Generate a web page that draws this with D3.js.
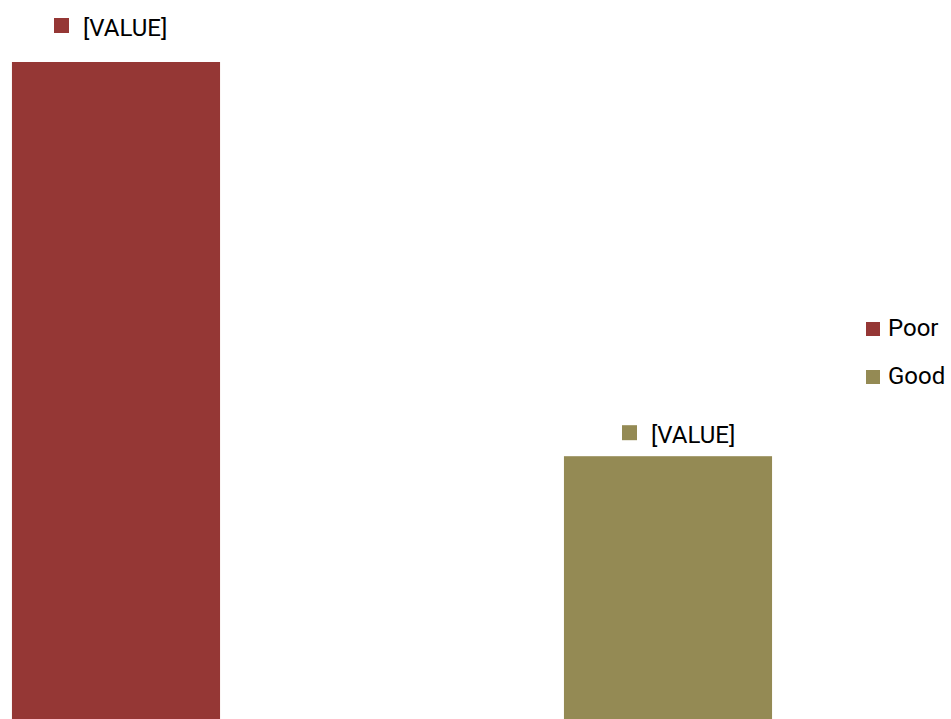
<!DOCTYPE html>
<html>
<head>
<meta charset="utf-8">
<script src="https://cdn.jsdelivr.net/npm/d3@7"></script>
<style>
  html, body { margin: 0; padding: 0; background: #fff; }
  svg { display: block; font-family: Roboto, "Liberation Sans", Arial, sans-serif; }
</style>
</head>
<body>
<svg id="chart"></svg>
<script>
// data
const categories = ["Poor", "Good"];
const values = [5, 2];
const labels = ["[VALUE]", "[VALUE]"];
const colors = ["#953735", "#948a54"];

// label placement relative to bar centre / bar top (the original positions them unevenly)
const labelDx = [-62, -46];
const labelDy = [-26, -13];

const width = 951, height = 719;

const svg = d3.select("#chart")
    .attr("width", width)
    .attr("height", height);

// x: category bands, gap width ~165% like the original
const x = d3.scaleBand()
    .domain(categories)
    .range([-160, 944])
    .paddingInner(0.623)
    .paddingOuter(0.3115);

// y: baseline sits at the bottom edge of the picture
const y = d3.scaleLinear()
    .domain([0, 5])
    .range([719, 62]);

const color = d3.scaleOrdinal().domain(categories).range(colors);

const rows = categories.map((c, i) => ({ cat: c, value: values[i], label: labels[i], i: i }));

// bars
svg.append("g").selectAll("rect")
    .data(rows)
    .enter()
    .append("rect")
    .attr("x", d => x(d.cat))
    .attr("y", d => y(d.value))
    .attr("width", x.bandwidth())
    .attr("height", d => y(0) - y(d.value))
    .attr("fill", d => color(d.cat));

// data labels with legend key
const lab = svg.append("g").selectAll("g")
    .data(rows)
    .enter()
    .append("g")
    .attr("transform", d => `translate(${x(d.cat) + x.bandwidth() / 2 + labelDx[d.i]}, ${y(d.value) + labelDy[d.i]})`);

lab.append("rect")
    .attr("x", 0)
    .attr("y", -18)
    .attr("width", 15)
    .attr("height", 15)
    .attr("fill", d => color(d.cat));

lab.append("text")
    .attr("x", 29)
    .attr("y", 0)
    .style("font-size", "24px")
    .style("fill", "#000")
    .text(d => d.label);

// legend
const legend = svg.append("g")
    .attr("transform", "translate(866, 336)");

categories.forEach((c, i) => {
    legend.append("rect")
        .attr("x", 0)
        .attr("y", i * 48 - 14)
        .attr("width", 14)
        .attr("height", 14)
        .attr("fill", color(c));
    legend.append("text")
        .attr("x", 22)
        .attr("y", i * 48)
        .style("font-size", "24px")
        .style("fill", "#000")
        .text(c);
});
</script>
</body>
</html>
